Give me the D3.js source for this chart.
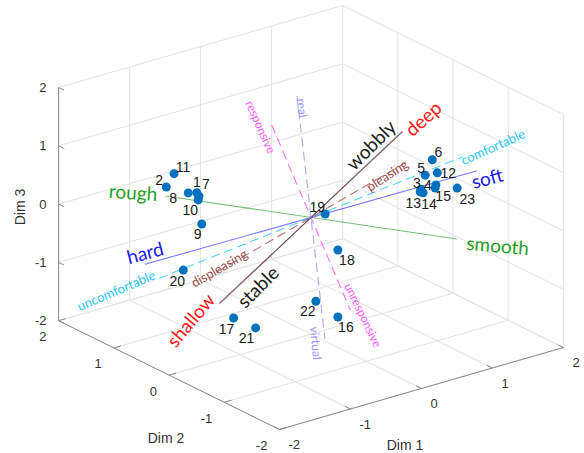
<!DOCTYPE html>
<html>
<head>
<meta charset="utf-8">
<script src="https://cdn.jsdelivr.net/npm/d3@7"></script>
<style>
  body { margin: 0; background: #fff; }
  svg text { font-family: Arial, "Liberation Sans", sans-serif; }
  .attr { font-family: Lato, "Open Sans", sans-serif; }
</style>
</head>
<body>
<div id="chart"></div>
<script>
"use strict";

// samples: Dim 1, Dim 2, Dim 3
const ids  = ["1", "2", "3", "4", "5", "6", "7", "8", "9", "10", "11", "12",
              "13", "14", "15", "16", "17", "18", "19", "20", "21", "22", "23"];
const dim1 = [-1.22, -1.65, 1.16, 1.37, 1.22, 1.32, -1.19, -1.34, -1.15, -1.20, -1.54, 1.39,
              1.15, 1.19, 1.36, -0.01, -1.09, -0.01, 0.20, -1.41, -0.78, -0.32, 1.67];
const dim2 = [0.5, 0.5, -0.5, -0.5, -0.5, -0.5, 0.5, 0.5, 0.5, 0.5, 0.5, -0.5,
              -0.5, -0.5, -0.5, -0.5, 0, -0.5, 0, 0.5, 0, -0.5, -0.5];
const dim3 = [0.62, 0.87, 0.31, 0.31, 0.53, 0.76, 0.55, 0.66, 0.06, 0.49, 1.06, 0.51,
              0.27, 0.24, 0.26, -1.47, -1.34, -0.32, -0.01, -0.64, -1.62, -1.09, 0.15];

// attribute directions (positive end), the negative end is the opposite label
const attrPos = ["smooth", "soft", "deep", "wobbly", "comfortable", "pleasing", "unresponsive", "virtual"];
const attrNeg = ["rough", "hard", "shallow", "stable", "uncomfortable", "displeasing", "responsive", "real"];
const attrVec = [
  [1.82, -0.3, -0.87],
  [1.95, -0.5, 0.35],
  [1.28, 0, 1.03],
  [1.29, 0, 1.02],
  [1.75, -0.5, 0.66],
  [1.09, -0.3, 0.69],
  [0.32, -0.3, -1.56],
  [-0.27, -0.6, -1.71]
];

const tickVals = [-2, -1, 0, 1, 2];

// look of each attribute line and label
const attrStyle = {
  smooth:      {line: "#2ca02c", text: "#1f9f1f", dash: null, op: 0.65},
  soft:        {line: "#3333ff", text: "#1a1ae6", dash: null, op: 0.65},
  deep:        {line: "#e02020", text: "#ff1a1a", dash: null, op: 0.3},
  wobbly:      {line: "#000000", text: "#1a1a1a", dash: null, op: 0.6},
  comfortable: {line: "#33ccff", text: "#2ec5f5", dash: "9,5", op: 0.85},
  pleasing:    {line: "#a85a5a", text: "#9c4c4c", dash: "9,5", op: 0.85},
  unresponsive:{line: "#ff55ff", text: "#ff5cff", dash: "9,5", op: 0.85},
  virtual:     {line: "#9a9aff", text: "#9a9aff", dash: "9,5", op: 0.85}
};
// label placement: offset from the projected end, rotation, font size
const labelLayout = {
  smooth:   [41, 6, 5, 19],        rough:         [-32, -4, 4, 19],
  soft:     [10, 7, -15, 19],      hard:          [0, -12, -15, 19],
  deep:     [21, -13, -42, 19],    shallow:       [-30, 16, -50, 19],
  wobbly:   [-32, 13, -45, 19],    stable:        [38, -17, -45, 19],
  comfortable: [30, -10, -24, 13], uncomfortable: [-43, 12, -23, 13],
  pleasing: [-18, 12, -33, 13],    displeasing:   [2, -4, -30, 13],
  unresponsive: [13, 5, 64, 12],   responsive:    [-11, 2, 66, 12],
  virtual:  [-9, 4, 85, 12],       real:          [5, 12, 83, 12]
};
// point label offsets
const ptLabel = {
  "1": [0, -11], "2": [-7, -7], "3": [-4, -6], "4": [-8, 0], "5": [-4, -7], "6": [6, -8],
  "7": [7, -12], "8": [-15, 5], "9": [-4, 10], "10": [-8, 10], "11": [9, -7], "12": [11, 0],
  "13": [-7, 11], "14": [6, 11], "15": [8, 8], "16": [8, 10], "17": [-7, 11], "18": [9, 10],
  "19": [-8, -7], "20": [-6, 11], "21": [-9, 10], "22": [-8, 10], "23": [10, 11]
};

const width = 584, height = 453;
const origin = [311, 217.5];
const lim = [-2, 2];

// each data axis maps onto a screen vector; the projection sums the three
const sx = d3.scaleLinear().domain(lim).range([[-142, 41], [142, -41]]);
const sy = d3.scaleLinear().domain(lim).range([[110.4, 54.4], [-110.4, -54.4]]);
const sz = d3.scaleLinear().domain(lim).range([[0, 116.6], [0, -116.6]]);

function proj(x, y, z) {
  const a = sx(x), ax = a[0], ay = a[1];
  const b = sy(y), bx = b[0], by = b[1];
  const c = sz(z);
  return [origin[0] + ax + bx + c[0], origin[1] + ay + by + c[1]];
}

const svg = d3.select("#chart").append("svg")
  .attr("width", width)
  .attr("height", height);

function seg(g, p, q) {
  return g.append("line")
    .attr("x1", p[0]).attr("y1", p[1])
    .attr("x2", q[0]).attr("y2", q[1]);
}

// grid on the floor and the two back walls
const grid = svg.append("g").attr("stroke", "#e3e3e3").attr("stroke-width", 1);
for (const t of tickVals) {
  seg(grid, proj(t, -2, -2), proj(t, 2, -2));
  seg(grid, proj(-2, t, -2), proj(2, t, -2));
  seg(grid, proj(t, 2, -2), proj(t, 2, 2));
  seg(grid, proj(-2, 2, t), proj(2, 2, t));
  seg(grid, proj(2, t, -2), proj(2, t, 2));
  seg(grid, proj(2, -2, t), proj(2, 2, t));
}

// axis lines and ticks
const axes = svg.append("g").attr("stroke", "#8a8a8a").attr("stroke-width", 1);
seg(axes, proj(-2, 2, -2), proj(-2, 2, 2));
seg(axes, proj(-2, 2, -2), proj(-2, -2, -2));
seg(axes, proj(-2, -2, -2), proj(2, -2, -2));
for (const t of tickVals) {
  seg(axes, proj(-2, 2, t), proj(-2, 1.9, t));
  seg(axes, proj(-2, t, -2), proj(-1.9, t, -2));
  seg(axes, proj(t, -2, -2), proj(t, -1.9, -2));
}

const tickText = svg.append("g").attr("fill", "#333").style("font-size", "13px");
for (const t of tickVals) {
  const pz = proj(-2, 2, t);
  tickText.append("text").attr("x", pz[0] - 12).attr("y", pz[1])
    .attr("text-anchor", "end").attr("dominant-baseline", "central").text(t);
  const py = proj(-2, t, -2);
  tickText.append("text").attr("x", py[0] - 12).attr("y", py[1] + 16)
    .attr("text-anchor", "end").attr("dominant-baseline", "central").text(t);
  const px = proj(t, -2, -2);
  tickText.append("text").attr("x", px[0] + 9).attr("y", px[1] + 15)
    .attr("text-anchor", "start").attr("dominant-baseline", "central").text(t);
}

const titles = svg.append("g").attr("fill", "#333").style("font-size", "14px");
titles.append("text").attr("x", 405).attr("y", 445)
  .attr("text-anchor", "middle").attr("dominant-baseline", "central").text("Dim 1");
titles.append("text").attr("x", 166).attr("y", 438)
  .attr("text-anchor", "middle").attr("dominant-baseline", "central").text("Dim 2");
titles.append("text").attr("transform", "translate(20,207) rotate(-90)")
  .attr("text-anchor", "middle").attr("dominant-baseline", "central").text("Dim 3");

// attribute lines through the origin
const lines = svg.append("g").attr("fill", "none").attr("stroke-width", 1.1);
attrVec.forEach((v, i) => {
  const st = attrStyle[attrPos[i]];
  const p = proj(v[0], v[1], v[2]);
  const q = proj(-v[0], -v[1], -v[2]);
  seg(lines, q, p)
    .attr("stroke", st.line)
    .attr("stroke-opacity", st.op)
    .attr("stroke-dasharray", st.dash);
});

// sample points
const pts = svg.append("g");
ids.forEach((id, i) => {
  const p = proj(dim1[i], dim2[i], dim3[i]);
  pts.append("circle").attr("cx", p[0]).attr("cy", p[1]).attr("r", 4.5).attr("fill", "#0072BD");
});
const ptText = svg.append("g").attr("fill", "#1a1a1a").style("font-size", "14px");
ids.forEach((id, i) => {
  const p = proj(dim1[i], dim2[i], dim3[i]);
  const o = ptLabel[id];
  ptText.append("text").attr("x", p[0] + o[0]).attr("y", p[1] + o[1])
    .attr("text-anchor", "middle").attr("dominant-baseline", "central").text(id);
});

// attribute labels at both ends
const attrText = svg.append("g");
attrVec.forEach((v, i) => {
  const st = attrStyle[attrPos[i]];
  [[attrPos[i], 1], [attrNeg[i], -1]].forEach(([name, s]) => {
    const p = proj(s * v[0], s * v[1], s * v[2]);
    const l = labelLayout[name];
    attrText.append("text")
      .attr("class", "attr")
      .attr("transform", `translate(${p[0] + l[0]},${p[1] + l[1]}) rotate(${l[2]})`)
      .attr("text-anchor", "middle")
      .attr("dominant-baseline", "central")
      .attr("fill", st.text)
      .style("font-size", l[3] + "px")
      .text(name);
  });
});
</script>
</body>
</html>
